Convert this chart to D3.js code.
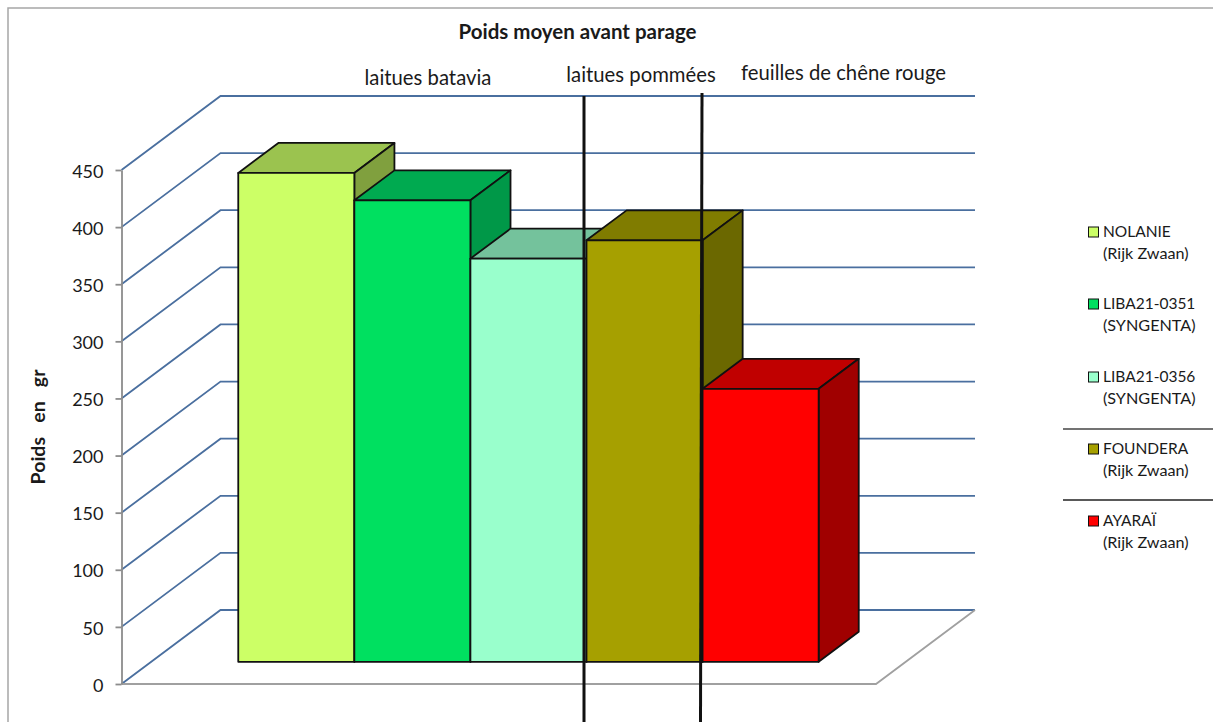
<!DOCTYPE html>
<html>
<head>
<meta charset="utf-8">
<script src="https://cdn.jsdelivr.net/npm/d3@7"></script>
<style>
	html, body { margin: 0; padding: 0; background: white; overflow: hidden; }
	text { font-family: Lato, "Open Sans", sans-serif; fill: #1a1a1a; }
</style>
</head>
<body>
<div id="chart"></div>
<script>
const varieties = ["NOLANIE", "LIBA21-0351", "LIBA21-0356", "FOUNDERA", "AYARAÏ"];
const suppliers = ["(Rijk Zwaan)", "(SYNGENTA)", "(SYNGENTA)", "(Rijk Zwaan)", "(Rijk Zwaan)"];
const weights = [428, 404, 353, 369, 239];
const yTicks = [0, 50, 100, 150, 200, 250, 300, 350, 400, 450];
const groupLabels = ["laitues batavia", "laitues pommées", "feuilles de chêne rouge"];
const frontColors = ["#ccff66", "#00e060", "#99ffcc", "#a6a000", "#ff0000"];
const topColors = ["#9bc34f", "#00aa50", "#74c29c", "#807c00", "#c00000"];
const sideColors = ["#80a03e", "#009848", "#5f9f80", "#6b6800", "#a00000"];

const width = 1213,
	height = 722;

const svg = d3.select('#chart')
	.append('svg')
	.attr('width', width)
	.attr('height', height)
	.style('display', 'block');

// scales, depth goes from the front of the floor (0) to the back wall (1)
const y = d3.scaleLinear().domain([0, 450]).range([684, 170]);
const x = d3.scaleBand().domain(varieties).range([121.5, 876]).paddingInner(0).paddingOuter(0.75);
const depthX = d3.scaleLinear().domain([0, 1]).range([0, 99]);
const depthY = d3.scaleLinear().domain([0, 1]).range([0, -74]);

const barFront = 0.3, barBack = 0.705;

// a point in the 3d box, px = flat x position, v = value, d = depth
const pt = (px, v, d) => [px + depthX(d), y(v) + depthY(d)];
const poly = (pts) => d3.line()(pts) + 'Z';

// outer frame
svg.append('path')
	.attr('d', `M8,${height} V8 H${width}`)
	.attr('fill', 'none')
	.attr('stroke', '#a6a6a6')
	.attr('stroke-width', 1.5);

// gridlines on the side and back wall
svg.append('g')
	.selectAll('path')
	.data(yTicks)
	.enter()
	.append('path')
		.attr('d', (d) => d3.line()([pt(x.range()[0], d, 0), pt(x.range()[0], d, 1), pt(x.range()[1], d, 1)]))
		.attr('fill', 'none')
		.attr('stroke', '#4a6f9f')
		.attr('stroke-width', 1.8);

// floor
svg.append('path')
	.attr('d', d3.line()([pt(x.range()[0], 0, 0), pt(x.range()[1], 0, 0), pt(x.range()[1], 0, 1)]))
	.attr('fill', 'none')
	.attr('stroke', '#a0a0a0')
	.attr('stroke-width', 1.8);

// y axis
const yAxis = d3.axisLeft(y).tickValues(yTicks).tickSize(6).tickPadding(12).tickSizeOuter(0);
const axisG = svg.append('g')
	.attr('transform', `translate(${x.range()[0]},0)`)
	.call(yAxis);
axisG.selectAll('path, line').attr('stroke', '#8c8c8c').attr('stroke-width', 1.8);
axisG.selectAll('text').style('font-size', '18px').attr('fill', '#1a1a1a').attr('dy', '0.4em');

// bars, left to right so that each one covers the side of the one before
const bars = svg.append('g')
	.selectAll('g')
	.data(varieties)
	.enter()
	.append('g')
		.attr('stroke', '#111')
		.attr('stroke-width', 1.8)
		.attr('stroke-linejoin', 'round');

bars.append('path')
	.attr('d', (d, i) => {
		const l = x(d), r = l + x.bandwidth();
		return poly([pt(l, weights[i], barFront), pt(l, weights[i], barBack), pt(r, weights[i], barBack), pt(r, weights[i], barFront)]);
	})
	.attr('fill', (d, i) => topColors[i]);

bars.append('path')
	.attr('d', (d, i) => {
		const r = x(d) + x.bandwidth();
		return poly([pt(r, weights[i], barFront), pt(r, weights[i], barBack), pt(r, 0, barBack), pt(r, 0, barFront)]);
	})
	.attr('fill', (d, i) => sideColors[i]);

bars.append('path')
	.attr('d', (d, i) => {
		const l = x(d), r = l + x.bandwidth();
		return poly([pt(l, weights[i], barFront), pt(r, weights[i], barFront), pt(r, 0, barFront), pt(l, 0, barFront)]);
	})
	.attr('fill', (d, i) => frontColors[i]);

// the hand drawn separators between the lettuce types
svg.append('line')
	.attr('x1', 584).attr('y1', 96)
	.attr('x2', 584).attr('y2', height)
	.attr('stroke', '#111').attr('stroke-width', 3);
svg.append('line')
	.attr('x1', 702).attr('y1', 93)
	.attr('x2', 700.5).attr('y2', height)
	.attr('stroke', '#111').attr('stroke-width', 3);

// title + labels
svg.append('text')
	.attr('x', 577.5).attr('y', 39)
	.style('text-anchor', 'middle')
	.style('font-size', '20.5px')
	.style('font-weight', 'bold')
	.text('Poids moyen avant parage');

svg.selectAll('.group')
	.data(groupLabels)
	.enter()
	.append('text')
		.attr('class', 'group')
		.attr('x', (d, i) => [428, 641, 843.5][i])
		.attr('y', (d, i) => [85, 82, 80][i])
		.style('text-anchor', 'middle')
		.style('font-size', '20.3px')
		.text((d) => d);

svg.append('text')
	.attr('transform', 'translate(45,427), rotate(270)')
	.style('text-anchor', 'middle')
	.style('font-size', '19.5px')
	.style('font-weight', 'bold')
	.style('white-space', 'pre')
	.text('Poids   en   gr');

// legend
const legendY = [232, 304, 377, 449, 521];
const legend = svg.selectAll('.legend')
	.data(varieties)
	.enter()
	.append('g')
		.attr('class', 'legend')
		.attr('transform', (d, i) => `translate(0,${legendY[i]})`);

legend.append('rect')
	.attr('x', 1088.5).attr('y', -5)
	.attr('width', 10).attr('height', 10)
	.attr('fill', (d, i) => frontColors[i])
	.attr('stroke', '#111');

legend.append('text')
	.attr('x', 1103).attr('y', 5)
	.style('font-size', '15.5px')
	.text((d) => d);

legend.append('text')
	.attr('x', 1103).attr('y', 27)
	.style('font-size', '16.2px')
	.text((d, i) => suppliers[i]);

svg.append('line')
	.attr('x1', 1063).attr('y1', 429)
	.attr('x2', width).attr('y2', 429)
	.attr('stroke', '#444').attr('stroke-width', 1.5);
svg.append('line')
	.attr('x1', 1063).attr('y1', 500)
	.attr('x2', width).attr('y2', 500)
	.attr('stroke', '#222').attr('stroke-width', 1.5);
</script>
</body>
</html>
